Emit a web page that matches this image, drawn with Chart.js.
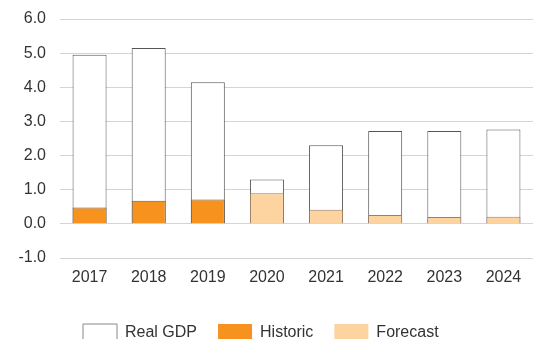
<!DOCTYPE html>
<html>
<head>
<meta charset="utf-8">
<script src="https://cdn.jsdelivr.net/npm/chart.js@4/dist/chart.umd.min.js"></script>
<style>
  html, body { margin: 0; padding: 0; background: #fff; overflow: hidden; }
  body { width: 533px; height: 339px; }
  #wrap { width: 533px; height: 352px; position: relative; }
</style>
</head>
<body>
<div id="wrap"><canvas id="c"></canvas></div>
<script>
const categories = ['2017', '2018', '2019', '2020', '2021', '2022', '2023', '2024'];
const realGDP = [4.95, 5.15, 4.15, 1.3, 2.3, 2.72, 2.72, 2.76];
const historic = [0.48, 0.68, 0.71, null, null, null, null, null];
const forecast = [null, null, null, 0.9, 0.41, 0.26, 0.2, 0.21];
const seriesNames = ['Real GDP', 'Historic', 'Forecast'];
const yTicks = { min: -1, max: 6, step: 1 };

const FONT = '"Liberation Sans", Arial, sans-serif';
const colors = {
  gdpFill: '#ffffff', gdpBorder: '#555555',
  hist: '#f7921e', histBorder: '#6b5a4a',
  fc: '#fdd3a0', fcBorder: '#9c7f66'
};

const legendShift = {
  id: 'legendShift',
  afterLayout(chart) {
    if (chart.legend) { chart.legend.left = 62; }
  }
};

new Chart(document.getElementById('c'), {
  type: 'bar',
  data: {
    labels: categories,
    datasets: [
      { label: seriesNames[0], data: realGDP, backgroundColor: colors.gdpFill,
        borderColor: colors.gdpBorder, borderWidth: 1, grouped: false, order: 2,
        barPercentage: 0.575, categoryPercentage: 1 },
      { label: seriesNames[1], data: historic, backgroundColor: colors.hist,
        borderColor: colors.histBorder, borderWidth: 1, grouped: false, order: 1,
        barPercentage: 0.575, categoryPercentage: 1 },
      { label: seriesNames[2], data: forecast, backgroundColor: colors.fc,
        borderColor: colors.fcBorder, borderWidth: 1, grouped: false, order: 0,
        barPercentage: 0.575, categoryPercentage: 1 }
    ]
  },
  plugins: [legendShift],
  options: {
    responsive: true,
    maintainAspectRatio: false,
    animation: false,
    layout: { padding: { top: 19, left: 0, right: 0, bottom: 0 } },
    plugins: {
      tooltip: { enabled: false },
      legend: {
        position: 'bottom',
        align: 'start',
        labels: {
          font: { family: FONT, size: 16 },
          color: '#333',
          boxWidth: 34,
          boxHeight: 18,
          padding: 21,
          generateLabels: (chart) => [
            { text: seriesNames[0], fillStyle: '#fff', strokeStyle: '#888', lineWidth: 1, datasetIndex: 0, fontColor: '#333' },
            { text: seriesNames[1], fillStyle: colors.hist, strokeStyle: colors.hist, lineWidth: 0, datasetIndex: 1, fontColor: '#333' },
            { text: seriesNames[2], fillStyle: colors.fc, strokeStyle: colors.fc, lineWidth: 0, datasetIndex: 2, fontColor: '#333' }
          ]
        }
      }
    },
    scales: {
      x: {
        grid: { display: false, drawTicks: false },
        border: { display: false },
        ticks: { font: { family: FONT, size: 16 }, color: '#333', padding: 10, maxRotation: 0 },
        afterFit: (s) => { s.height = 45; }
      },
      y: {
        min: yTicks.min, max: yTicks.max,
        grid: { color: '#d4d4d4', lineWidth: 1, drawTicks: false },
        border: { display: false },
        ticks: { stepSize: yTicks.step, font: { family: FONT, size: 16 }, color: '#333', padding: 14,
          callback: (v) => Number(v).toFixed(1) },
        afterFit: (s) => { s.width = 60; s.paddingTop = 0; s.paddingBottom = 0; }
      }
    }
  }
});
</script>
</body>
</html>
